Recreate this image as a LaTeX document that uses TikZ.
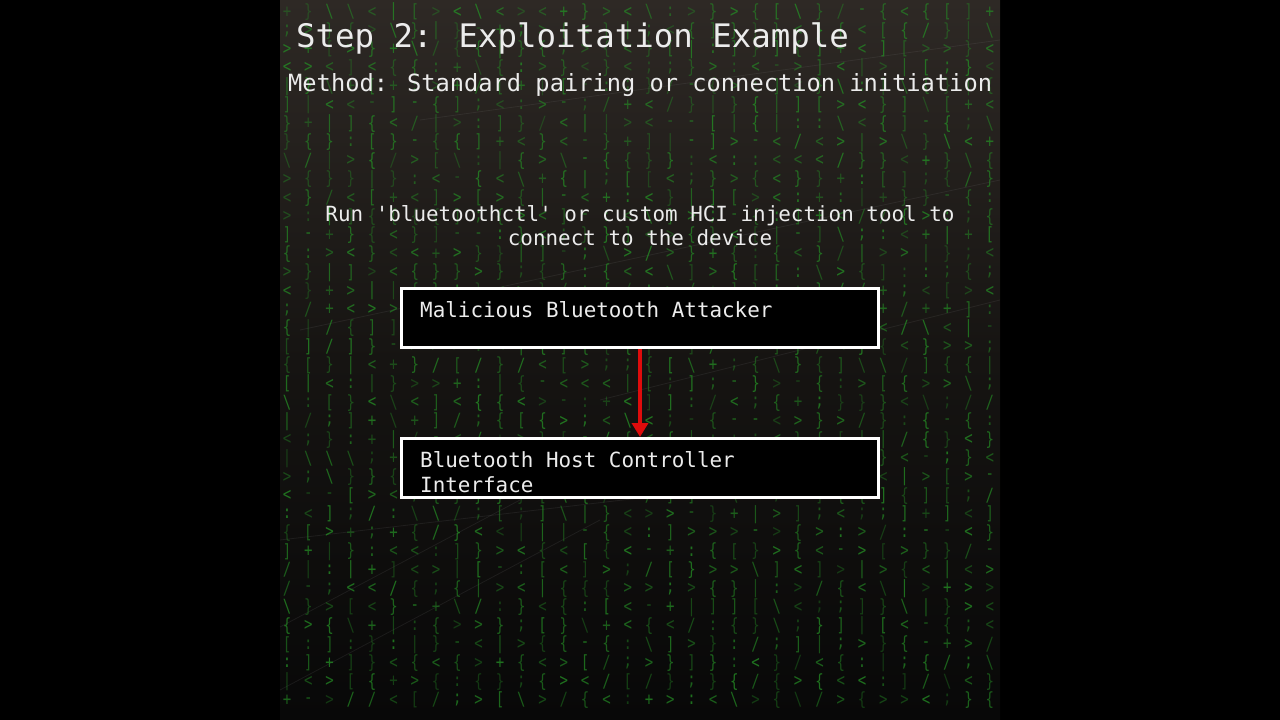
\documentclass[tikz,border=0pt]{standalone}
\usepackage{fontspec}
\newfontfamily\mono{DejaVu Sans Mono}
\usetikzlibrary{arrows.meta}
\definecolor{panelTop}{RGB}{46,41,37}
\definecolor{panelMid}{RGB}{22,20,18}
\definecolor{panelBot}{RGB}{8,8,8}
\definecolor{mxgreen}{RGB}{36,140,36}
\definecolor{txtwhite}{RGB}{236,236,236}
\definecolor{arrowred}{RGB}{222,12,12}
\pgfmathdeclarerandomlist{mchars}{{\{}{\}}{[}{]}{<}{>}{/}{\textbackslash}{+}{-}{;}{:}{|}{\{}{\}}{<}{>}}
\tikzset{
  mx/.style={text=mxgreen, font=\mono\fontsize{14}{14}\selectfont, inner sep=0pt, anchor=center},
  titletxt/.style={text=txtwhite, font=\mono\fontsize{32.4}{38}\selectfont, inner sep=0pt, anchor=base west},
  subtxt/.style={text=txtwhite, font=\mono\fontsize{23.7}{28}\selectfont, inner sep=0pt, anchor=base west},
  bodytxt/.style={text=txtwhite, font=\mono\fontsize{20.9}{24}\selectfont, inner sep=0pt},
  boxstyle/.style={draw=white, fill=black, line width=3pt},
  streak/.style={draw=gray, opacity=0.14, line width=0.8pt},
  redarrow/.style={draw=arrowred, line width=3.4pt, -{Triangle[length=14pt,width=16pt]}}
}
\begin{document}
\begin{tikzpicture}[x=1pt,y=-1pt]
\useasboundingbox (0,0) rectangle (1280,720);
\fill[black] (0,0) rectangle (1280,720);
\shade[top color=panelTop, bottom color=panelBot, middle color=panelMid] (280,0) rectangle (1000,720);
% faint streaks
\draw[streak] (280,540) -- (640,498);
\draw[streak] (280,627) -- (520,500);
\draw[streak] (280,690) -- (600,520);
\draw[streak] (420,120) -- (1000,40);
\draw[streak] (300,330) -- (1000,180);
\draw[streak] (600,400) -- (1000,300);
% matrix background characters
\pgfmathsetseed{7}
\begin{scope}
\clip (280,0) rectangle (1000,720);
\foreach \i in {0,...,33}{
  \foreach \j in {0,...,37}{
    \pgfmathrandomitem{\mch}{mchars}
    \pgfmathsetmacro{\mop}{0.35+0.45*rnd}
    \node[mx, opacity=\mop] (mx-\i-\j) at (287+21.3*\i, 12+18.6*\j) {\scalebox{1}[1.3]{\mch}};
  }
}
\end{scope}
% texts
\node[titletxt] (title) at (296,47) {Step 2: Exploitation Example};
\node[subtxt] (method) at (288,91) {Method: Standard pairing or connection initiation};
\node[bodytxt, anchor=base] (run1) at (640,221) {Run 'bluetoothctl' or custom HCI injection tool to};
\node[bodytxt, anchor=base] (run2) at (640,245) {connect to the device};
% boxes
\path[boxstyle] (401.5,288.5) rectangle (878.5,347.5);
\coordinate (b1bot) at (640,349);
\node[bodytxt, anchor=base west] (attacker) at (420,317) {Malicious Bluetooth Attacker};
\path[boxstyle] (401.5,438.5) rectangle (878.5,497.5);
\coordinate (b2top) at (640,437);
\node[bodytxt, anchor=base west] (hci1) at (420,467) {Bluetooth Host Controller};
\node[bodytxt, anchor=base west] (hci2) at (420,492) {Interface};
\draw[redarrow] (b1bot) -- (b2top);
\end{tikzpicture}
\end{document}
